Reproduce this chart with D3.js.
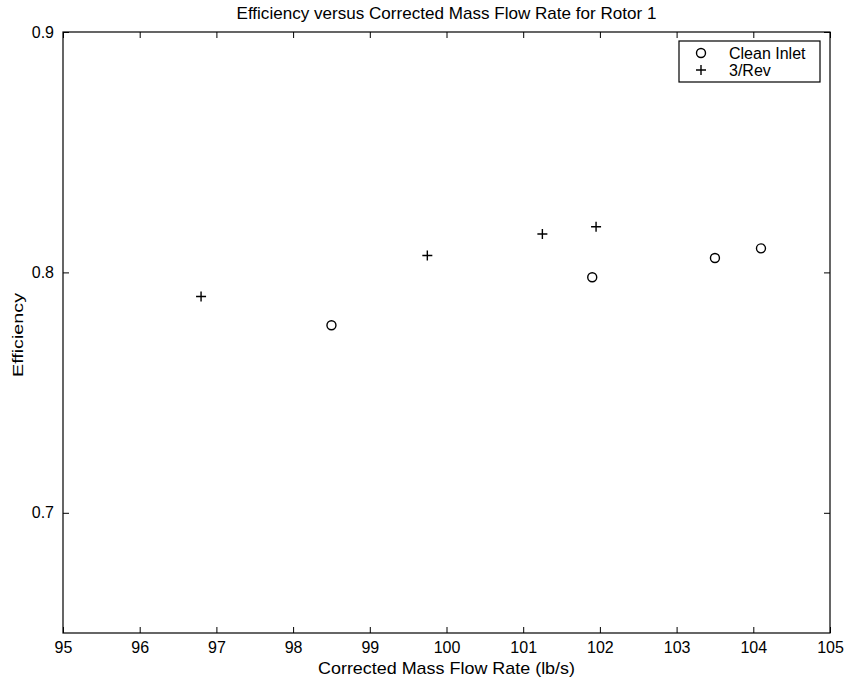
<!DOCTYPE html>
<html>
<head>
<meta charset="utf-8">
<script src="https://cdn.jsdelivr.net/npm/d3@7"></script>
<style>
  body { margin: 0; background: #fff; }
  svg text { font-family: "Liberation Sans", Arial, sans-serif; fill: #000; }
</style>
</head>
<body>
<div id="container"></div>
<script>
const WIDTH = 849;
const HEIGHT = 681;
const MARGIN = {top: 32, right: 19, bottom: 48, left: 63};
const INNER_WIDTH = WIDTH - MARGIN.left - MARGIN.right;
const INNER_HEIGHT = HEIGHT - MARGIN.top - MARGIN.bottom;

// data
var cleanFlow = [98.5, 101.9, 103.5, 104.1];
var cleanEff = [0.778, 0.798, 0.806, 0.810];
var revFlow = [96.8, 99.75, 101.25, 101.95];
var revEff = [0.790, 0.807, 0.816, 0.819];
var xTicks = [95, 96, 97, 98, 99, 100, 101, 102, 103, 104, 105];
var yTicks = [0.7, 0.8, 0.9];
var seriesNames = ["Clean Inlet", "3/Rev"];

var XScale = d3.scaleLinear().domain([95, 105]).range([0, INNER_WIDTH]);
var YScale = d3.scaleLinear().domain([0.65, 0.9]).range([INNER_HEIGHT, 0]);

var svg = d3.select("#container").append("svg")
    .attr("width", WIDTH)
    .attr("height", HEIGHT);

var g = svg.append("g")
    .attr("transform", "translate(" + MARGIN.left + "," + MARGIN.top + ")");

var drawAxis = function (axis, transform, showLabels) {
    var a = g.append("g").attr("transform", transform).call(axis);
    a.select(".domain").remove();
    a.selectAll(".tick line").attr("stroke", "#000").attr("stroke-width", 1);
    a.selectAll(".tick text").attr("font-size", 16);
    if (!showLabels) a.selectAll(".tick text").remove();
    return a;
};

// inward ticks, MATLAB style
drawAxis(d3.axisBottom(XScale).tickValues(xTicks).tickSizeInner(-6).tickPadding(9)
    .tickFormat(d3.format("d")), "translate(0," + INNER_HEIGHT + ")", true);
drawAxis(d3.axisTop(XScale).tickValues(xTicks).tickSizeInner(-6), "translate(0,0)", false);
drawAxis(d3.axisLeft(YScale).tickValues(yTicks).tickSizeInner(-6).tickPadding(9)
    .tickFormat(d3.format(".1f")), "translate(0,0)", true);
drawAxis(d3.axisRight(YScale).tickValues(yTicks).tickSizeInner(-6), "translate(" + INNER_WIDTH + ",0)", false);

g.append("rect")
    .attr("width", INNER_WIDTH)
    .attr("height", INNER_HEIGHT)
    .attr("fill", "none")
    .attr("stroke", "#000")
    .attr("stroke-width", 1.2);

var cleanData = cleanFlow.map(function (d, i) { return {x: d, y: cleanEff[i]}; });
var revData = revFlow.map(function (d, i) { return {x: d, y: revEff[i]}; });

g.selectAll("circle.clean").data(cleanData).enter().append("circle")
    .attr("class", "clean")
    .attr("cx", function (d) { return XScale(d.x); })
    .attr("cy", function (d) { return YScale(d.y); })
    .attr("r", 4.5)
    .attr("fill", "none")
    .attr("stroke", "#000")
    .attr("stroke-width", 1.4);

g.selectAll("path.rev").data(revData).enter().append("path")
    .attr("class", "rev")
    .attr("transform", function (d) { return "translate(" + XScale(d.x) + "," + YScale(d.y) + ")"; })
    .attr("d", "M-5,0H5M0,-5V5")
    .attr("stroke", "#000")
    .attr("stroke-width", 1.4);

// legend
var legend = g.append("g").attr("transform", "translate(" + (INNER_WIDTH - 151) + ",9)");
legend.append("rect")
    .attr("width", 141)
    .attr("height", 41)
    .attr("fill", "#fff")
    .attr("stroke", "#000")
    .attr("stroke-width", 1.2);
legend.append("circle")
    .attr("cx", 22).attr("cy", 12).attr("r", 4.5)
    .attr("fill", "none").attr("stroke", "#000").attr("stroke-width", 1.4);
legend.append("path")
    .attr("d", "M17,29H27M22,24V34")
    .attr("stroke", "#000").attr("stroke-width", 1.4);
legend.selectAll("text").data(seriesNames).enter().append("text")
    .attr("x", 50)
    .attr("y", function (d, i) { return 12 + i * 17; })
    .attr("dy", "0.35em")
    .attr("font-size", 16)
    .text(function (d) { return d; });

// title and axis labels
svg.append("text")
    .attr("x", MARGIN.left + INNER_WIDTH / 2)
    .attr("y", 19)
    .attr("text-anchor", "middle")
    .attr("font-size", 17)
    .attr("textLength", 420)
    .attr("lengthAdjust", "spacingAndGlyphs")
    .text("Efficiency versus Corrected Mass Flow Rate for Rotor 1");

svg.append("text")
    .attr("x", MARGIN.left + INNER_WIDTH / 2)
    .attr("y", 674)
    .attr("text-anchor", "middle")
    .attr("font-size", 17)
    .attr("textLength", 257)
    .attr("lengthAdjust", "spacingAndGlyphs")
    .text("Corrected Mass Flow Rate (lb/s)");

svg.append("text")
    .attr("transform", "translate(23,335) rotate(-90)")
    .attr("text-anchor", "middle")
    .attr("font-size", 15)
    .attr("textLength", 84)
    .attr("lengthAdjust", "spacingAndGlyphs")
    .text("Efficiency");
</script>
</body>
</html>
